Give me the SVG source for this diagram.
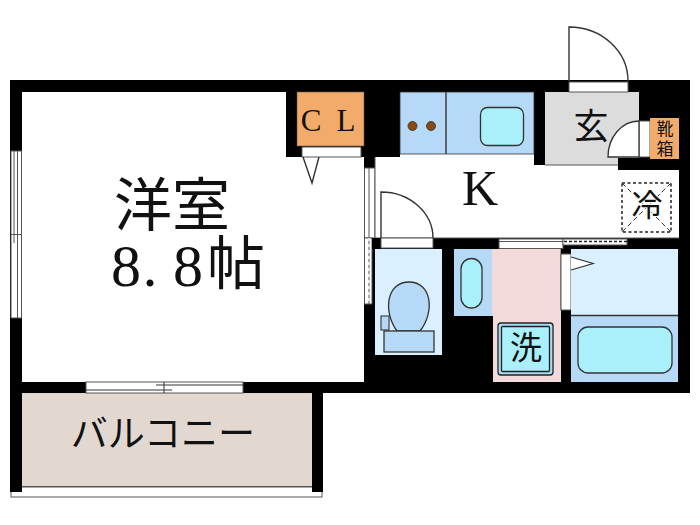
<svg xmlns="http://www.w3.org/2000/svg" width="700" height="525" viewBox="0 0 700 525">
<style>
.wall{fill:#000}
.open{fill:#fff;stroke:#555;stroke-width:1}
.ln{fill:none;stroke:#333;stroke-width:1.4}
.thin{fill:none;stroke:#555;stroke-width:1}
.t{font-family:"Noto Sans CJK JP","Noto Sans CJK SC",sans-serif;fill:#111;font-weight:400;text-anchor:middle}
.s{font-family:"Liberation Serif",serif;fill:#111;text-anchor:middle}
</style>
<rect width="700" height="525" fill="#fff"/>
<g id="walls">
<path class="wall" d="M10 80H690V393H10Z"/>
</g>
<g id="room-western">
<rect x="22" y="92" width="342" height="290" fill="#fff"/>
<path d="M286 92H364V157H286Z" fill="#000"/>
<rect x="297" y="92" width="67" height="54" fill="#f3ab6c" stroke="#555" stroke-width=".6"/>
<rect x="302" y="147" width="59" height="10" class="open"/>
<path class="ln" d="M303 157L312 183L319 157"/>
<text class="s" y="131" font-size="31"><tspan x="315">C</tspan> <tspan x="346">L</tspan></text>
<text class="t" font-size="58"><tspan x="172" y="226">洋室</tspan><tspan class="s" x="126" y="286" font-size="60">8</tspan><tspan class="s" x="150" y="286" font-size="60">.</tspan><tspan class="s" x="188" y="286" font-size="60">8</tspan><tspan x="236" y="284">帖</tspan></text>
</g>
<g id="window-left">
<rect x="11" y="151" width="10.500" height="167" class="open"/>
<path class="thin" d="M14 151V243M17.500 151V318M11 234.500H22"/>
</g>
<g id="window-east">
<rect x="364.500" y="168" width="10.500" height="70" class="open"/>
<rect x="364.500" y="238" width="7.500" height="66" class="open"/>
<path class="thin" d="M369 168V304"/>
<path d="M369 238V304" stroke="#fff" stroke-width="1.500" stroke-dasharray="3 3"/>
</g>
<g id="kitchen-room">
<path d="M375 157H400V154H534V165H618V170H679V238H375Z" fill="#fff"/>
<path d="M375 157V238M375 238H679" class="thin"/>
<rect x="372" y="238" width="9" height="11" fill="#000"/>
<text class="s" x="480" y="205" font-size="50">K</text>
</g>
<g id="kitchen-unit">
<rect x="400" y="92" width="134" height="62" fill="#b5d9f7" stroke="#333" stroke-width=".8"/>
<path class="ln" d="M446 92V154"/>
<rect x="480.500" y="107.500" width="43" height="38" rx="7" fill="#aaf0fb" stroke="#333" stroke-width="1.300"/>
<circle cx="412.500" cy="126" r="4.500" fill="#8a4a12" stroke="#333" stroke-width=".8"/>
<circle cx="431" cy="126" r="4.500" fill="#8a4a12" stroke="#333" stroke-width=".8"/>
</g>
<g id="genkan">
<rect x="545" y="92" width="94" height="73" fill="#dcdcdc"/>
<path d="M545 165H618" class="thin"/>
<rect x="618" y="158" width="72" height="12" fill="#000"/>
<rect x="639" y="121" width="11" height="36" class="open"/>
<path d="M639 121A31 36 0 0 0 608 157H639Z" fill="#fff" stroke="#333" stroke-width="1.300"/>
<text class="t" x="591" y="139" font-size="35">玄</text>
<rect x="650" y="118" width="29" height="41" fill="#f3ab6c"/>
<text class="t" font-size="17"><tspan x="665" y="135">靴</tspan><tspan x="665" y="155">箱</tspan></text>
</g>
<g id="entry-door">
<rect x="569" y="82" width="59" height="10" class="open"/>
<path class="ln" d="M569 81V27A59 54 0 0 1 628 81"/>
</g>
<g id="fridge">
<rect x="622" y="183" width="49" height="49" fill="#fff" stroke="#222" stroke-width="1.500" stroke-dasharray="3 2.500"/>
<path d="M622 183L671 232M671 183L622 232" stroke="#333" stroke-width="1" stroke-dasharray="5 3"/>
<text class="t" x="647" y="216" font-size="31" style="paint-order:stroke" stroke="#fff" stroke-width="2">冷</text>
</g>
<g id="toilet">
<rect x="381" y="238" width="52" height="10" class="open"/>
<path class="ln" d="M381 238V192A52 46 0 0 1 433 238"/>
<rect x="375" y="249" width="67" height="106" fill="#daf0ff"/>
<path d="M397 331C383 312 386 282 409 282C432 282 435 312 420 331Z" fill="#b5d9f7" stroke="#333" stroke-width="1.300"/>
<rect x="381" y="316" width="8" height="14" fill="#b5d9f7" stroke="#333" stroke-width="1.100"/>
<rect x="384" y="331" width="50" height="21" fill="#b5d9f7" stroke="#333" stroke-width="1.300"/>
</g>
<g id="washbasin">
<rect x="454" y="249" width="38" height="67" fill="#b5d9f7"/>
<rect x="461" y="258.500" width="21" height="49.500" rx="10.500" fill="#aaf0fb" stroke="#333" stroke-width="1.300"/>
</g>
<g id="washroom">
<path d="M492 249H561V382H493V316H492Z" fill="#f2dada"/>
<path d="M561 249V310" class="thin"/>
<rect x="498" y="323" width="55" height="52" rx="3" fill="#a8dcf2" stroke="#222" stroke-width="1.300"/>
<rect x="501.500" y="326.500" width="48" height="45" rx="1" fill="#aaf0fb" stroke="#222" stroke-width="1.300"/>
<text class="t" x="526" y="359" font-size="32">洗</text>
</g>
<g id="bathroom">
<rect x="561" y="249" width="10" height="61" fill="#000"/>
<rect x="561" y="254" width="10" height="56" class="open"/>
<rect x="571" y="249" width="107" height="66" fill="#daf0ff"/>
<rect x="571" y="315" width="107" height="67" fill="#b5d9f7"/>
<path d="M571 315.500H678" class="ln"/>
<rect x="578" y="327" width="94" height="46" rx="10" fill="#aaf0fb" stroke="#333" stroke-width="1.300"/>
<path d="M571 257L593 263.500L571 270" fill="#fff" stroke="#333" stroke-width="1.300"/>
</g>
<g id="inner-doors">
<rect x="499" y="239" width="64" height="9.500" class="open"/>
<rect x="563" y="239" width="64" height="6" class="open"/>
<path d="M499 241.500H563" class="thin"/>
<path d="M564 241.500H627" stroke="#222" stroke-width="1.500" stroke-dasharray="3 2"/>
</g>
<g id="balcony">
<rect x="11" y="487" width="311" height="10" fill="#fff" stroke="#555" stroke-width="1"/>
<rect x="10" y="393" width="12" height="99" fill="#000"/>
<rect x="312" y="393" width="11" height="99" fill="#000"/>
<rect x="22" y="393" width="290" height="93" fill="#e2d8d0"/>
<path d="M22 486.500H312" stroke="#555" stroke-width="1.200"/>
<text class="t" x="163" y="447" font-size="37">バルコニー</text>
<rect x="86" y="382" width="157" height="11" class="open"/>
<path d="M86 390H172M156 385H243M164 382V393" stroke="#333" stroke-width="1"/>
</g>
<g id="connectors"></g>
</svg>
